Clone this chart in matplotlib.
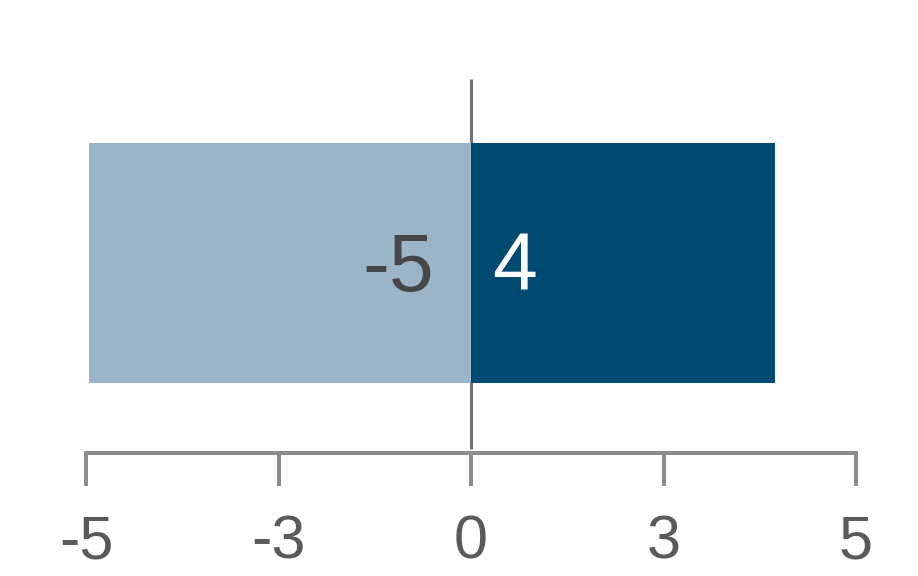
import matplotlib.pyplot as plt

# data
neg_value = -4.96
pos_value = 3.95
tick_values = [-5, -2.5, 0, 2.5, 5]
tick_labels = ["-5", "-3", "0", "3", "5"]

plt.rcParams['font.family'] = ['Liberation Sans', 'DejaVu Sans']

fig = plt.figure(figsize=(9.18, 5.76), dpi=100)
ax = fig.add_axes([0, 0, 1, 1])

# zero line behind the bars
ax.plot([0, 0], [-0.775, 0.767], color='#707070', lw=2.2, zorder=1, solid_capstyle='butt')

ax.barh(0, neg_value, height=1, left=0, color='#9ab5c8', zorder=2)
ax.barh(0, pos_value, height=1, left=0, color='#014a71', zorder=2)

ax.annotate(f"{neg_value:.0f}", xy=(0, 0), xytext=(-27, -5), textcoords='offset points',
            ha='right', va='center', fontsize=58, color='#474747', zorder=3)
ax.annotate(f"{pos_value:.0f}", xy=(0, 0), xytext=(15, -5), textcoords='offset points',
            ha='left', va='center', fontsize=58, color='white', zorder=3)

ax.set_xlim(-471 / 77, (918 - 471) / 77)
ax.set_ylim(-313 / 240, 263 / 240)

for s in ['top', 'left', 'right']:
    ax.spines[s].set_visible(False)
ax.spines['bottom'].set_position(('data', -0.792))
ax.spines['bottom'].set_bounds(-5, 5)
ax.spines['bottom'].set_color('#8c8c8c')
ax.spines['bottom'].set_linewidth(2.9)

ax.set_xticks(tick_values)
ax.set_xticklabels(tick_labels)
ax.tick_params(axis='x', direction='out', length=24, width=2.9, color='#8c8c8c',
               labelsize=44, labelcolor='#5a5a5a', pad=20)
ax.set_yticks([])
ax.patch.set_visible(False)

fig.savefig('out.png', dpi=100)
